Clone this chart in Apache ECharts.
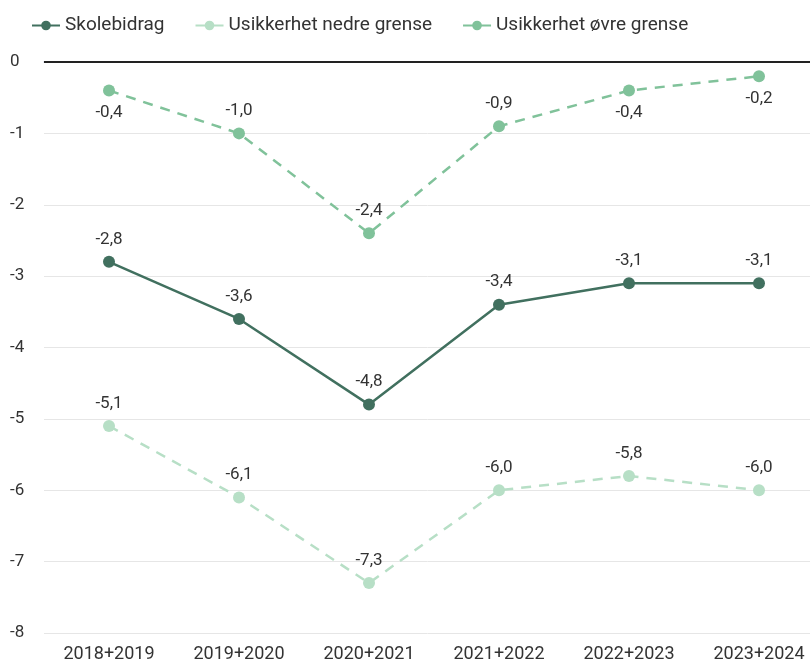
<!DOCTYPE html>
<html><head><meta charset="utf-8">
<script src="https://cdn.jsdelivr.net/npm/echarts@6/dist/echarts.min.js"></script>
<style>html,body{margin:0;padding:0;background:#fff}#c{width:810px;height:663px}</style>
</head><body><div id="c"></div>
<script>
const categories = ['2018+2019','2019+2020','2020+2021','2021+2022','2022+2023','2023+2024'];
const skolebidrag = [-2.8,-3.6,-4.8,-3.4,-3.1,-3.1];
const nedre = [-5.1,-6.1,-7.3,-6.0,-5.8,-6.0];
const ovre = [-0.4,-1.0,-2.4,-0.9,-0.4,-0.2];
const ovreLabelPos = ['bottom','top','top','top','bottom','bottom'];

const fmt = v => v.toFixed(1).replace('.', ',');
const chart = echarts.init(document.getElementById('c'));
const lbl = {show:true, color:'#333', fontSize:17, fontFamily:'Roboto', distance:8, formatter:p=>fmt(p.value)};
chart.setOption({
  animation:false,
  textStyle:{fontFamily:'Roboto'},
  legend:{left:26, top:11, itemWidth:28, itemHeight:12, itemGap:30,
    textStyle:{fontSize:19, color:'#333', fontFamily:'Roboto'},
    data:['Skolebidrag','Usikkerhet nedre grense','Usikkerhet øvre grense']},
  grid:{left:44, right:-14, top:62, height:571, containLabel:false, outerBoundsMode:'none'},
  xAxis:{type:'category', data:categories, boundaryGap:true,
    axisLine:{show:true, lineStyle:{color:'#ccd3e8', width:1.5}}, axisTick:{show:false},
    axisLabel:{color:'#333', fontSize:18, margin:12, fontFamily:'Roboto'}},
  yAxis:{type:'value', min:-8, max:0, interval:1,
    axisLabel:{color:'#333', fontSize:17, margin:34, align:'left', fontFamily:'Roboto', formatter:v=>String(v)},
    splitLine:{lineStyle:{color:'#e6e6e6', width:1}}, axisLine:{show:false}, axisTick:{show:false}},
  series:[
    {name:'Skolebidrag', type:'line', data:skolebidrag, symbol:'circle', symbolSize:12,
     itemStyle:{color:'#41705f'}, lineStyle:{color:'#41705f', width:2.5},
     label:Object.assign({position:'top'}, lbl),
     markLine:{silent:true, symbol:'none', label:{show:false}, lineStyle:{color:'#222', width:2, type:'solid'}, data:[{yAxis:0}]}},
    {name:'Usikkerhet nedre grense', type:'line', data:nedre, symbol:'circle', symbolSize:12,
     itemStyle:{color:'#b7dfc6'}, lineStyle:{color:'#b7dfc6', width:2.5, type:[10,8]},
     label:Object.assign({position:'top'}, lbl)},
    {name:'Usikkerhet øvre grense', type:'line', symbol:'circle', symbolSize:12,
     data:ovre.map((v,i)=>({value:v, label:{position:ovreLabelPos[i]}})),
     itemStyle:{color:'#80c29a'}, lineStyle:{color:'#80c29a', width:2.5, type:[10,8]},
     label:lbl}
  ]
});
</script></body></html>
